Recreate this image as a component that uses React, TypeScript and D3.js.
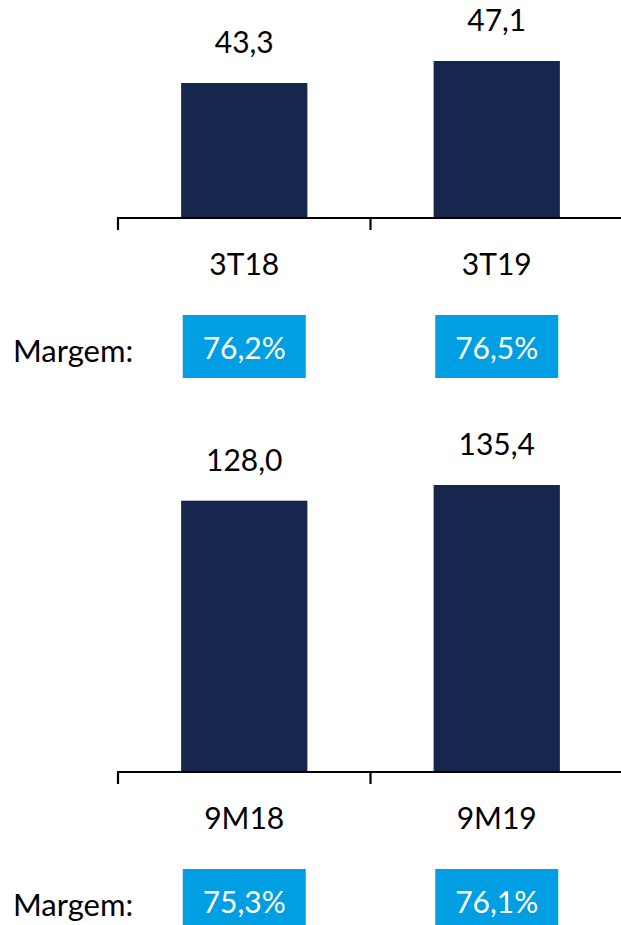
import React from "react";
import * as d3 from "d3";

const categoriesQ = ["3T18", "3T19"];
const valuesQ = [43.3, 47.1];
const marginsQ = ["76,2%", "76,5%"];

const categories9M = ["9M18", "9M19"];
const values9M = [128.0, 135.4];
const margins9M = ["75,3%", "76,1%"];

const marginLabel = "Margem:";

const W = 621;
const H = 925;
const BAR = "#16264c";
const BOX = "#009fe3";
const FONT = "Lato, 'Open Sans', sans-serif";
const FS = 30;

const fmt = (v: number) => v.toFixed(1).replace(".", ",");

function Panel({ cats, vals, margins, axisY, domain, topY }: {
  cats: string[]; vals: number[]; margins: string[]; axisY: number; domain: [number, number]; topY: number;
}) {
  const x = d3.scaleBand<string>().domain(cats).range([118, 623]).padding(0);
  const y = d3.scaleLinear().domain(domain).range([axisY, topY]);
  const bw = x.bandwidth() * 0.5;
  const boxW = 123;
  const ticks = [...cats.map((c) => x(c)!), x.range()[1]];
  return (
    <g>
      {cats.map((c, i) => {
        const cx = x(c)! + x.bandwidth() / 2;
        const top = y(vals[i]);
        return (
          <g key={c}>
            <rect x={cx - bw / 2} y={top} width={bw} height={axisY - top} fill={BAR} />
            <text x={cx} y={top - 30} textAnchor="middle" fontFamily={FONT} fontSize={FS} fill="#000">
              {fmt(vals[i])}
            </text>
            <text x={cx} y={axisY + 57} textAnchor="middle" fontFamily={FONT} fontSize={FS} fill="#000">
              {c}
            </text>
            <rect x={cx - boxW / 2} y={axisY + 97} width={boxW} height={63} fill={BOX} />
            <text x={cx} y={axisY + 141} textAnchor="middle" fontFamily={FONT} fontSize={FS} fill="#fff">
              {margins[i]}
            </text>
          </g>
        );
      })}
      <line x1={ticks[0]} x2={ticks[ticks.length - 1]} y1={axisY} y2={axisY} stroke="#000" strokeWidth={2.2} />
      {ticks.map((t, i) => (
        <line key={i} x1={t} x2={t} y1={axisY - 1} y2={axisY + 12} stroke="#000" strokeWidth={2.2} />
      ))}
      <text x={13} y={axisY + 144} fontFamily={FONT} fontSize={FS + 1} fill="#000">
        {marginLabel}
      </text>
    </g>
  );
}

export default function App() {
  return (
    <svg width={W} height={H} style={{ position: "absolute", left: 0, top: 0, background: "#fff" }}>
      <rect width={W} height={H} fill="#fff" />
      <Panel cats={categoriesQ} vals={valuesQ} margins={marginsQ} axisY={218} domain={[20, 47.1]} topY={61} />
      <Panel cats={categories9M} vals={values9M} margins={margins9M} axisY={772} domain={[0, 135.4]} topY={485} />
    </svg>
  );
}
